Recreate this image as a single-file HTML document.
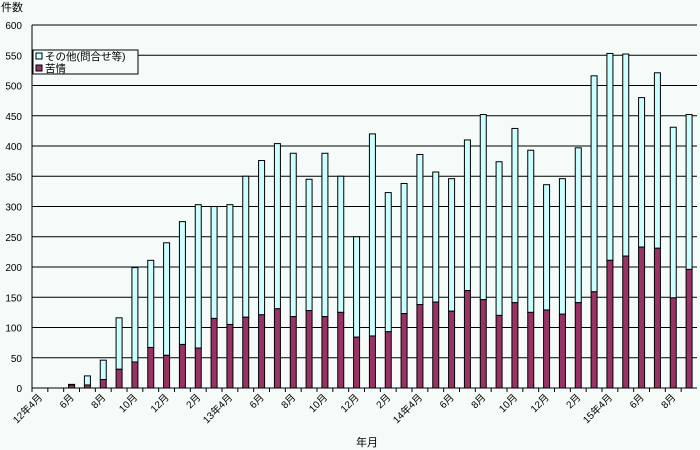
<!DOCTYPE html>
<html><head><meta charset="utf-8"><style>
body{margin:0;background:#f5fbf8;}
svg{display:block;font-family:"Liberation Sans","Noto Sans CJK JP",sans-serif;}
</style></head><body>
<svg id="c" width="700" height="450">
<rect width="700" height="450" fill="#f5fbf8"/>
<g id="grid"></g><g id="bars"></g><g id="yt"></g><g id="xt"></g>
<text x="1" y="11" font-size="11">件数</text>
<text x="356" y="446" font-size="11">年月</text>
<g>
<rect x="33" y="50" width="105" height="24" fill="#f5fbf8" stroke="#000"/>
<rect x="36" y="53" width="6" height="6" fill="#ccffff" stroke="#000"/>
<text x="45" y="60" font-size="10.5">その他(問合せ等)</text>
<rect x="36" y="65" width="6" height="6" fill="#993366" stroke="#000"/>
<text x="45" y="72" font-size="10.5">苦情</text>
</g>
</svg>
<script>
const months=["12年4月","5月","6月","7月","8月","9月","10月","11月","12月","1月","2月","3月","13年4月","5月","6月","7月","8月","9月","10月","11月","12月","1月","2月","3月","14年4月","5月","6月","7月","8月","9月","10月","11月","12月","1月","2月","3月","15年4月","5月","6月","7月","8月","9月"];
const totals=[0,0,6,20,46,116,199,211,240,275,303,300,303,350,376,404,388,345,388,350,250,420,323,338,386,357,346,410,452,374,429,393,336,346,397,516,553,552,480,521,431,452];
const complaints=[0,0,5,5,14,31,43,67,54,72,66,115,105,117,121,131,118,128,118,125,84,86,93,123,138,142,127,161,146,120,141,125,129,122,141,159,211,218,233,231,149,196];
const yTicks=[0,50,100,150,200,250,300,350,400,450,500,550,600];
const X0=32,X1=697,Y0=388,Y1=25,N=months.length,sw=(X1-X0)/N;
const y=v=>Y0-(v/600)*(Y0-Y1);
const xc=i=>X0+(i+0.5)*sw;
const ns="http://www.w3.org/2000/svg";
function mk(p,t,a){const e=document.createElementNS(ns,t);for(const k in a)e.setAttribute(k,a[k]);document.getElementById(p).appendChild(e);return e;}
yTicks.forEach(v=>{
 if(v>0){const l=mk('grid','line',{x1:X0,x2:X1,y1:y(v),y2:y(v),stroke:'#000','stroke-width':1});
 
 }
 const t=mk('yt','text',{x:22,y:y(v)+4,'font-size':10,'text-anchor':'end'});t.textContent=v;
 
 
});
mk('grid','line',{x1:X0,x2:X0,y1:Y1,y2:Y0,stroke:'#000'});
mk('grid','line',{x1:X0,x2:X1,y1:Y0,y2:Y0,stroke:'#000'});
months.forEach((m,i)=>{
 const x=xc(i),bw=6;
 mk('grid','line',{x1:X0+i*sw,x2:X0+i*sw,y1:Y0,y2:Y0+4,stroke:'#000'});
 if(totals[i]>0){
  const o=mk('bars','rect',{x:x-bw/2,y:y(totals[i]),width:bw,height:y(complaints[i])-y(totals[i]),fill:'#ccffff',stroke:'#000','stroke-width':1});
  
  
  const c=mk('bars','rect',{x:x-bw/2,y:y(complaints[i]),width:bw,height:Y0-y(complaints[i]),fill:'#993366',stroke:'#000','stroke-width':1});
  
  
 }
 if(i%2===0&&i<=40){
  const t=mk('xt','text',{x:0,y:0,'font-size':10,'text-anchor':'end',transform:`translate(${x+3},${Y0+10}) rotate(-45)`});
  t.textContent=m;
  
  
 }
});
</script>
</body></html>
